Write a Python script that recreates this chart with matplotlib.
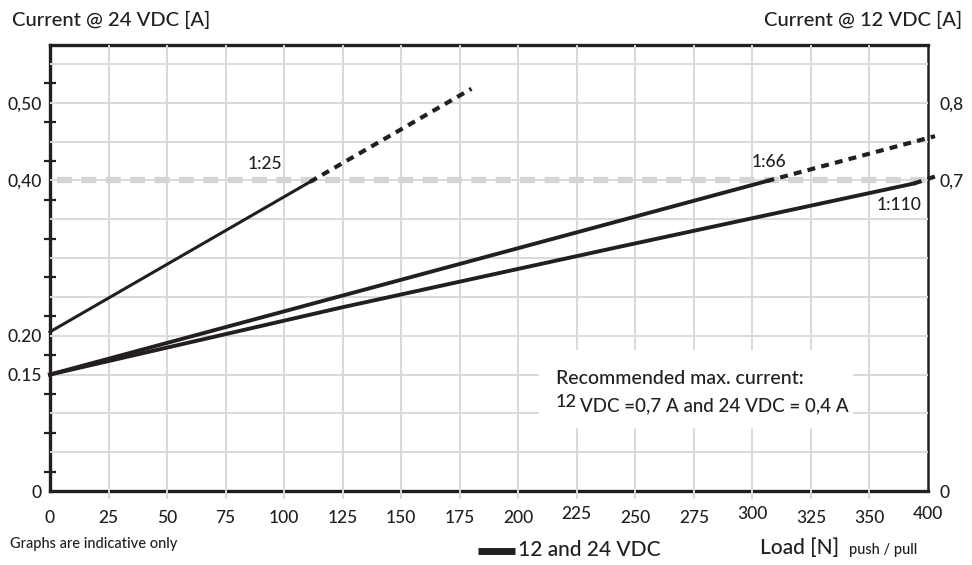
import numpy as np
import matplotlib
matplotlib.use("Agg")
import matplotlib.pyplot as plt
from matplotlib.patches import Rectangle

plt.rcParams['font.family'] = ['Lato', 'DejaVu Sans']
plt.rcParams['font.weight'] = 'medium'

# --- data ------------------------------------------------------------------
# x positions of the load ticks; note the last tick is labelled 400
x_tick_pos = [0, 25, 50, 75, 100, 125, 150, 175, 200, 225, 250, 275, 300, 325, 350, 375]
x_tick_labels = ['0', '25', '50', '75', '100', '125', '150', '175', '200', '225',
                 '250', '275', '300', '325', '350', '400']
y_left_pos = [0, 0.15, 0.20, 0.40, 0.50]
y_left_labels = ['0', '0.15', '0.20', '0,40', '0,50']
y_right_pos = [0, 0.40, 0.50]
y_right_labels = ['0', '0,7', '0,8']

# 1:25 gear ratio
r25_solid_x = [0, 111]
r25_solid_y = [0.205, 0.398]
r25_dash_x = [111, 180]
r25_dash_y = [0.398, 0.518]
# 1:66 gear ratio
r66_solid_x = [0, 306]
r66_solid_y = [0.150, 0.399]
r66_dash_x = [306, 378]
r66_dash_y = [0.399, 0.457]
# 1:110 gear ratio
r110_solid_x = [0, 124, 244, 369]
r110_solid_y = [0.150, 0.236, 0.315, 0.396]
r110_dash_x = [369, 379]
r110_dash_y = [0.396, 0.406]

max_current = 0.40

# --- figure -----------------------------------------------------------------
W, H = 972, 565
ink = '#231f20'
gridc = '#d9d9d9'

def fx(x):
	return x / W

def fy(y):
	return 1 - y / H

fig = plt.figure(figsize=(W/100., H/100.), dpi=100)
ax = fig.add_axes([fx(50), fy(491), (928-50)/W, (491-44.5)/H])
ax.set_xlim(0, 375)
ax.set_ylim(0, 0.575)

# Grid (drawn on top of the frame, like the original)
for gy in np.arange(0.05, 0.576, 0.05):
	ax.plot([0, 375], [gy, gy], color=gridc, lw=1.4, zorder=2.7, solid_capstyle='butt')
for gx in x_tick_pos[1:-1]:
	ax.plot([gx, gx], [-0.01, 0.575], color=gridc, lw=1.4, zorder=2.7,
			clip_on=False, solid_capstyle='butt')

# Recommended max. current (grey dashed)
ax.plot([3, 375], [max_current, max_current], color='#d4d4d4', lw=4.5,
		dashes=(2.4, 1.5), zorder=2.8, solid_capstyle='butt')

# Curves
kw = dict(color=ink, zorder=4, clip_on=False)
ax.plot(r25_solid_x, r25_solid_y, lw=2.2, **kw)
ax.plot(r25_dash_x, r25_dash_y, lw=3.0, dashes=(1.9, 1.5), dash_capstyle='butt', **kw)
ax.plot(r66_solid_x, r66_solid_y, lw=2.8, **kw)
ax.plot(r66_dash_x, r66_dash_y, lw=3.0, dashes=(1.9, 1.5), dash_capstyle='butt', **kw)
ax.plot(r110_solid_x, r110_solid_y, lw=2.8, **kw)
ax.plot(r110_dash_x, r110_dash_y, lw=3.0, dashes=(1.9, 1.5), dash_capstyle='butt', **kw)

ax.text(92, 0.421, '1:25', fontsize=12.5, color=ink, ha='center', va='center', zorder=5)
ax.text(307, 0.424, '1:66', fontsize=12.5, color=ink, ha='center', va='center', zorder=5)
ax.text(362.5, 0.368, '1:110', fontsize=12.5, color=ink, ha='center', va='center', zorder=5,
		bbox=dict(facecolor='white', edgecolor='none', pad=0.5))

# white box behind the note
ax.add_patch(Rectangle((209, 0.081), 134, 0.101, facecolor='white', edgecolor='none', zorder=3))
ax.text(216, 0.145, 'Recommended max. current:', fontsize=14, color=ink,
		ha='left', va='center', zorder=5)
ax.text(216, 0.114, '12', fontsize=13, color=ink, ha='left', va='center', zorder=5)
ax.text(226.5, 0.110, 'VDC =0,7 A and 24 VDC = 0,4 A', fontsize=13.5, color=ink,
		ha='left', va='center', zorder=5)

# Frame
for side in ['left', 'bottom', 'top']:
	ax.spines[side].set_linewidth(2.4)
	ax.spines[side].set_color(ink)
ax.spines['right'].set_linewidth(1.8)
ax.spines['right'].set_color(ink)

# Left axis: labelled positions without ticks, small ticks in between
ax.set_yticks(y_left_pos)
ax.set_yticklabels(y_left_labels)
ax.set_yticks(np.arange(0.025, 0.55, 0.05), minor=True)
ax.tick_params(axis='y', which='major', length=0, pad=6, labelsize=12.5, labelcolor=ink)
ax.tick_params(axis='y', which='minor', direction='inout', length=8, width=1.6, color=ink)

# Bottom axis
ax.set_xticks(x_tick_pos)
ax.set_xticklabels(x_tick_labels)
ax.tick_params(axis='x', which='major', length=0, pad=14, labelsize=12.5, labelcolor=ink)
for lbl in ax.get_xticklabels():
	if lbl.get_text() in ('225', '300', '400'):
		lbl.set_y(0.01)

# Right axis (12 VDC scale)
ax2 = ax.twinx()
ax2.set_ylim(ax.get_ylim())
ax2.set_yticks(y_right_pos)
ax2.set_yticklabels(y_right_labels)
ax2.tick_params(axis='y', length=0, pad=8, labelsize=12.5, labelcolor=ink)
for s in ax2.spines.values():
	s.set_visible(False)

# Outside texts
fig.text(fx(12), fy(20), 'Current @ 24 VDC [A]', fontsize=14.5, color=ink, ha='left', va='center')
fig.text(fx(962), fy(20), 'Current @ 12 VDC [A]', fontsize=14.5, color=ink, ha='right', va='center')
fig.text(fx(10), fy(544), 'Graphs are indicative only', fontsize=10.5, color=ink, ha='left', va='center')
fig.add_artist(plt.Line2D([fx(478), fx(515)], [fy(551), fy(551)], color=ink, lw=5, solid_capstyle='butt'))
fig.text(fx(518), fy(550), '12 and 24 VDC', fontsize=15, color=ink, ha='left', va='center')
fig.text(fx(760), fy(548), 'Load [N]', fontsize=15, color=ink, ha='left', va='center')
fig.text(fx(849), fy(550), 'push / pull', fontsize=10.5, color=ink, ha='left', va='center')

fig.savefig('out.png', dpi=100)
plt.close(fig)
